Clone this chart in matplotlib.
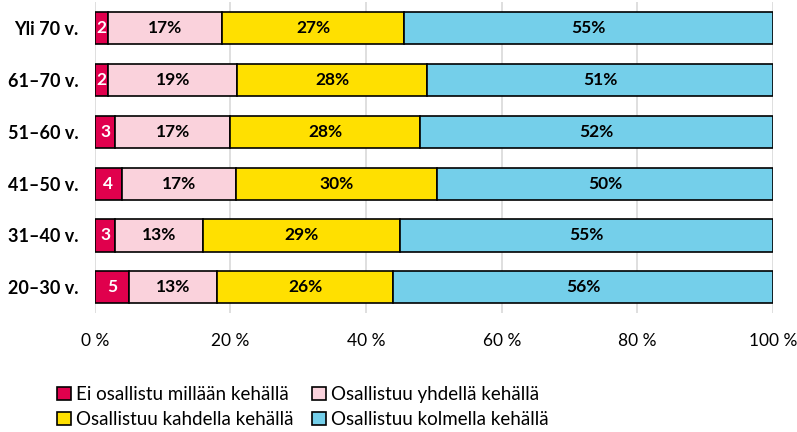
import matplotlib.pyplot as plt
import numpy as np

plt.rcParams["font.family"] = ["Lato", "DejaVu Sans"]

CATEGORIES = ["Yli 70 v.", "61–70 v.", "51–60 v.", "41–50 v.", "31–40 v.", "20–30 v."]

SERIES_LABELS = [
    "Ei osallistu millään kehällä",
    "Osallistuu yhdellä kehällä",
    "Osallistuu kahdella kehällä",
    "Osallistuu kolmella kehällä",
]

NONE_RING = [2, 2, 3, 4, 3, 5]
ONE_RING = [17, 19, 17, 17, 13, 13]
TWO_RINGS = [27, 28, 28, 30, 29, 26]
THREE_RINGS = [55, 51, 52, 50, 55, 56]

COLORS = ["#E0004D", "#FAD2DC", "#FFE000", "#74CFEA"]
TEXT_COLORS = ["white", "black", "black", "black"]

values = np.array([NONE_RING, ONE_RING, TWO_RINGS, THREE_RINGS], dtype=float)
# rounded shares can sum to 101, scale them so bars end at 100 %
widths = values / values.sum(axis=0) * 100

fig = plt.figure(figsize=(7.97, 4.32), dpi=100)
ax = fig.add_axes([0.119, 0.275, 0.851, 0.72])

y = np.arange(len(CATEGORIES))
left = np.zeros(len(CATEGORIES))
handles = []
for i, (w, lab, col) in enumerate(zip(widths, SERIES_LABELS, COLORS)):
    bars = ax.barh(y, w, left=left, height=0.62, color=col, edgecolor="black",
                   linewidth=1.2, label=lab, zorder=3)
    handles.append(bars)
    for j, b in enumerate(bars):
        txt = f"{int(values[i, j])}" if i == 0 else f"{int(values[i, j])}%"
        ax.text(left[j] + w[j] / 2, y[j], txt, ha="center", va="center",
                fontsize=12.5, fontweight="bold", color=TEXT_COLORS[i], zorder=4)
    left += w

ax.set_ylim(len(CATEGORIES) - 0.5, -0.5)
ax.set_xlim(0, 100)
ax.set_yticks(y)
ax.set_yticklabels(CATEGORIES, fontsize=13, fontweight="bold")
ax.set_xticks(np.arange(0, 101, 20))
ax.set_xticklabels([f"{v} %" for v in range(0, 101, 20)], fontsize=12.5)
ax.tick_params(axis="both", length=0)
ax.tick_params(axis="x", pad=14)
ax.tick_params(axis="y", pad=12)
ax.grid(axis="x", color="#d9d9d9", linewidth=1.2, zorder=0)
for s in ax.spines.values():
    s.set_visible(False)

# legend fills row by row in the original
order = [0, 2, 1, 3]
fig.legend(handles=[handles[k] for k in order], labels=[SERIES_LABELS[k] for k in order],
           ncol=2, loc="lower left", bbox_to_anchor=(0.058, -0.017), frameon=False,
           fontsize=13.5, handlelength=0.7, handleheight=0.7, handletextpad=0.3,
           columnspacing=1.0, labelspacing=0.45, borderaxespad=0.2)

fig.savefig("out.png", dpi=100)
